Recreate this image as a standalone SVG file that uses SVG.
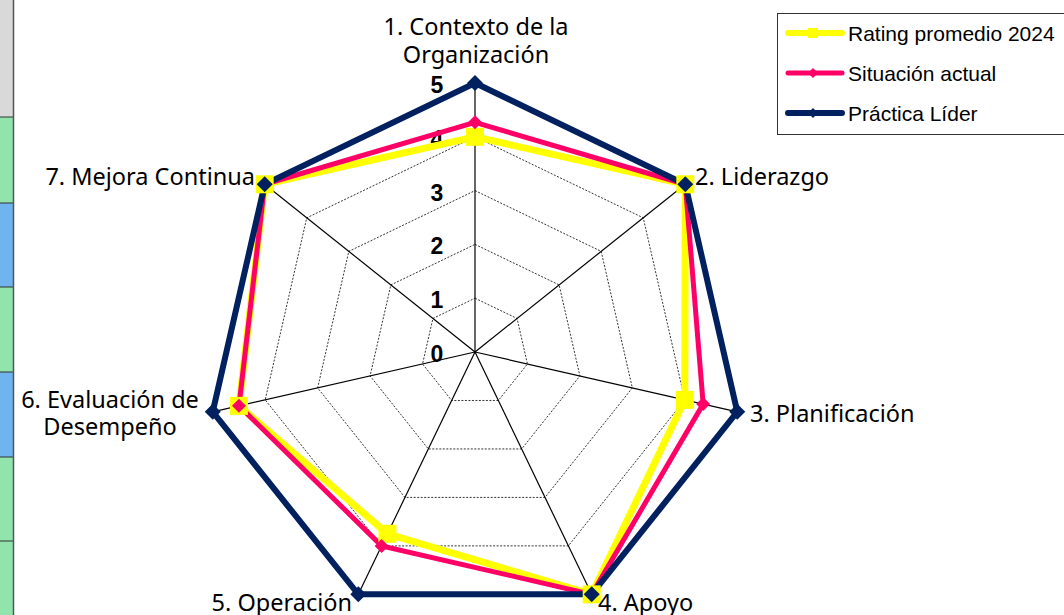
<svg xmlns="http://www.w3.org/2000/svg" width="1064" height="615" viewBox="0 0 1064 615">
<style>
.lbl{font-family:"Noto Sans","Open Sans",sans-serif;font-size:23.5px;fill:#000}
.tick{font-family:"Liberation Sans",Arial,sans-serif;font-size:23px;font-weight:bold;fill:#000;text-anchor:middle}
.leg{font-family:"Liberation Sans",Arial,sans-serif;font-size:21px;fill:#000}
.ring{fill:none;stroke:#000;stroke-width:0.8;stroke-dasharray:2 1.5}
.axis{stroke:#000;stroke-width:1.2}
.ser{fill:none;stroke-linejoin:miter}
</style>
<defs>
<rect id="sq" x="-9" y="-9" width="18" height="18" fill="#FFFF00"/>
<polygon id="dp" points="0,-7 7,0 0,7 -7,0" fill="#FF0066"/>
<polygon id="dn" points="0,-8 8,0 0,8 -8,0" fill="#002060"/>
</defs>
<rect x="0" y="0" width="1064" height="615" fill="#fff"/>
<g id="strip">
<rect x="0" y="0" width="13" height="117" fill="#d9d9d9"/>
<rect x="0" y="117" width="13" height="86" fill="#90e4ac"/>
<rect x="0" y="203" width="13" height="84" fill="#6fb4ee"/>
<rect x="0" y="287" width="13" height="85" fill="#90e4ac"/>
<rect x="0" y="372" width="13" height="85" fill="#6fb4ee"/>
<rect x="0" y="457" width="13" height="84" fill="#90e4ac"/>
<rect x="0" y="541" width="13" height="74" fill="#90e4ac"/>
<g stroke="#333" stroke-width="1">
<line x1="0" y1="117" x2="13" y2="117"/><line x1="0" y1="203" x2="13" y2="203"/><line x1="0" y1="287" x2="13" y2="287"/><line x1="0" y1="372" x2="13" y2="372"/><line x1="0" y1="457" x2="13" y2="457"/><line x1="0" y1="541" x2="13" y2="541"/>
</g>
<line x1="13.5" y1="0" x2="13.5" y2="615" stroke="#555" stroke-width="1.5"/>
</g>
<g id="grid">
<polygon class="ring" points="475,298.2 517.06,318.46 527.45,363.97 498.34,400.47 451.66,400.47 422.55,363.97 432.94,318.46"/>
<polygon class="ring" points="475,244.4 559.12,284.91 579.9,375.94 521.69,448.94 428.31,448.94 370.1,375.94 390.88,284.91"/>
<polygon class="ring" points="475,190.6 601.19,251.37 632.35,387.91 545.03,497.42 404.97,497.42 317.65,387.91 348.81,251.37"/>
<polygon class="ring" points="475,136.8 643.25,217.83 684.8,399.89 568.37,545.89 381.63,545.89 265.2,399.89 306.75,217.83"/>
<polygon class="ring" points="475,83 685.31,184.28 737.26,411.86 591.71,594.36 358.29,594.36 212.74,411.86 264.69,184.28"/>
<g class="axis">
<line x1="475" y1="352" x2="475" y2="83"/>
<line x1="475" y1="352" x2="685.31" y2="184.28"/>
<line x1="475" y1="352" x2="737.26" y2="411.86"/>
<line x1="475" y1="352" x2="591.71" y2="594.36"/>
<line x1="475" y1="352" x2="358.29" y2="594.36"/>
<line x1="475" y1="352" x2="212.74" y2="411.86"/>
<line x1="475" y1="352" x2="264.69" y2="184.28"/>
</g>
</g>
<g id="ticks">
<text class="tick" x="437" y="362">0</text>
<text class="tick" x="437" y="308">1</text>
<text class="tick" x="437" y="254">2</text>
<text class="tick" x="437" y="201">3</text>
<text class="tick" x="437" y="147">4</text>
<text class="tick" x="437" y="93">5</text>
</g>
<g id="connectors">
<polygon id="s-rating" class="ser" stroke="#FFFF00" stroke-width="7" points="475,136.8 685.31,184.28 684.8,399.89 591.71,594.36 387.46,533.77 238.97,405.87 264.69,184.28"/>
<polygon id="s-actual" class="ser" stroke="#FF0066" stroke-width="5" points="475,122.3 685.31,184.28 703.16,404.08 591.71,594.36 381.63,545.89 238.97,405.87 264.69,184.28"/>
<polygon id="s-lider" class="ser" stroke="#002060" stroke-width="6" points="475,83 685.31,184.28 737.26,411.86 591.71,594.36 358.29,594.36 212.74,411.86 264.69,184.28"/>
</g>
<g id="markers">
<use href="#sq" x="475" y="136.8"/><use href="#sq" x="685.31" y="184.28"/><use href="#sq" x="684.8" y="399.89"/><use href="#sq" x="591.71" y="594.36"/><use href="#sq" x="387.46" y="533.77"/><use href="#sq" x="238.97" y="405.87"/><use href="#sq" x="264.69" y="184.28"/>
<use href="#dp" x="475" y="122.3"/><use href="#dp" x="685.31" y="184.28"/><use href="#dp" x="703.16" y="404.08"/><use href="#dp" x="591.71" y="594.36"/><use href="#dp" x="381.63" y="545.89"/><use href="#dp" x="238.97" y="405.87"/><use href="#dp" x="264.69" y="184.28"/>
<use href="#dn" x="475" y="83"/><use href="#dn" x="685.31" y="184.28"/><use href="#dn" x="737.26" y="411.86"/><use href="#dn" x="591.71" y="594.36"/><use href="#dn" x="358.29" y="594.36"/><use href="#dn" x="212.74" y="411.86"/><use href="#dn" x="264.69" y="184.28"/>
</g>
<g id="n1"><text class="lbl" x="476" y="35" text-anchor="middle">1. Contexto de la</text><text class="lbl" x="476" y="63" text-anchor="middle">Organización</text></g>
<g id="n2"><text class="lbl" x="695" y="185">2. Liderazgo</text></g>
<g id="n3"><text class="lbl" x="750" y="422">3. Planificación</text></g>
<g id="n4"><text class="lbl" x="598" y="611">4. Apoyo</text></g>
<g id="n5"><text class="lbl" x="352" y="611" text-anchor="end">5. Operación</text></g>
<g id="n6"><text class="lbl" x="110" y="408" text-anchor="middle">6. Evaluación de</text><text class="lbl" x="110" y="435" text-anchor="middle">Desempeño</text></g>
<g id="n7"><text class="lbl" x="255" y="185" text-anchor="end">7. Mejora Continua</text></g>
<g id="legend">
<rect x="777.5" y="13.5" width="300" height="121" fill="#fff" stroke="#333" stroke-width="1"/>
<line x1="788" y1="33" x2="842" y2="33" stroke="#FFFF00" stroke-width="6" stroke-linecap="round"/>
<rect x="808" y="28" width="10" height="10" fill="#FFFF00"/>
<line x1="788" y1="73" x2="842" y2="73" stroke="#FF0066" stroke-width="5" stroke-linecap="round"/>
<polygon points="813,68 818,73 813,78 808,73" fill="#FF0066"/>
<line x1="788" y1="113" x2="842" y2="113" stroke="#002060" stroke-width="6" stroke-linecap="round"/>
<polygon points="813,108 818,113 813,118 808,113" fill="#002060"/>
<text class="leg" x="848" y="41">Rating promedio 2024</text>
<text class="leg" x="848" y="81">Situación actual</text>
<text class="leg" x="848" y="121">Práctica Líder</text>
</g>
</svg>
